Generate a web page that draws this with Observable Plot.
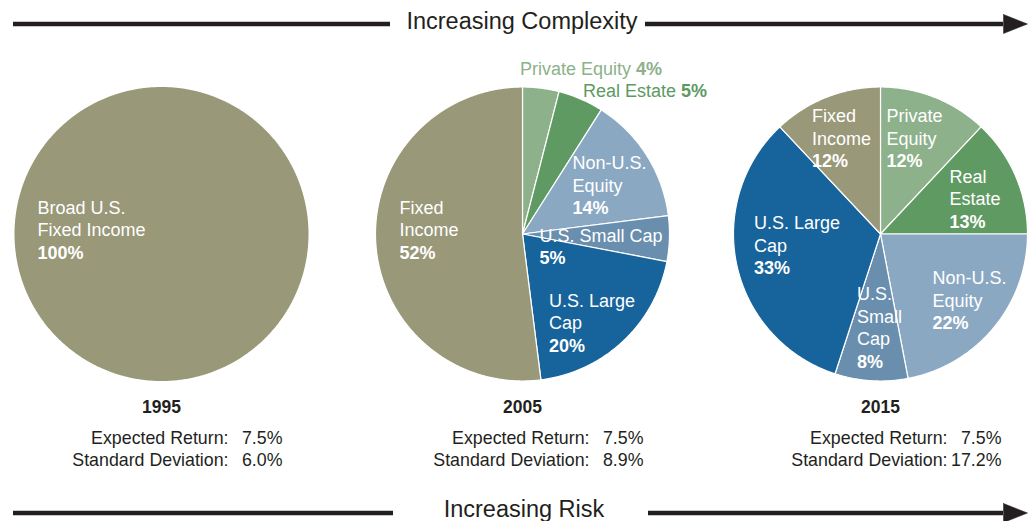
<!DOCTYPE html>
<html>
<head>
<meta charset="utf-8">
<script src="https://cdn.jsdelivr.net/npm/d3@7"></script>
<script src="https://cdn.jsdelivr.net/npm/@observablehq/plot@0.6"></script>
<style>
  html, body { margin: 0; padding: 0; background: #ffffff; }
  #chart svg { display: block; }
</style>
</head>
<body>
<div id="chart"></div>
<script>
// ---------------- DATA ----------------
const categories = ["Private Equity", "Real Estate", "Non-U.S. Equity", "U.S. Small Cap", "U.S. Large Cap", "Fixed Income"];
const years = ["1995", "2005", "2015"];
const values1995 = [0, 0, 0, 0, 0, 100];
const values2005 = [4, 5, 14, 5, 20, 52];
const values2015 = [12, 13, 22, 8, 33, 12];
const labels1995 = ["", "", "", "", "", "Broad U.S.\nFixed Income"];
const labels2005 = ["Private Equity", "Real Estate", "Non-U.S.\nEquity", "U.S. Small Cap", "U.S. Large\nCap", "Fixed\nIncome"];
const labels2015 = ["Private\nEquity", "Real\nEstate", "Non-U.S.\nEquity", "U.S.\nSmall\nCap", "U.S. Large\nCap", "Fixed\nIncome"];
const expectedReturn = ["7.5%", "7.5%", "7.5%"];
const standardDeviation = ["6.0%", "8.9%", "17.2%"];
const expectedLabel = "Expected Return:";
const deviationLabel = "Standard Deviation:";
const topLabel = "Increasing Complexity";
const bottomLabel = "Increasing Risk";

// ---------------- STYLE / LAYOUT ----------------
const colors = ["#8db18a", "#609a63", "#8ba8c3", "#698eae", "#17639b", "#999878"];
const textColors = ["#8db18a", "#5e9962", "#ffffff", "#ffffff", "#ffffff", "#ffffff"];
const W = 1031, H = 521;
const FONT = "'Liberation Sans', Arial, Helvetica, sans-serif";
const ink = "#231f20";
const pieCx = [161, 522, 880], pieCy = 233.5, pieR = 147;
const labelSize = 18, labelLH = 22.5;
const statSize = 17.8;
// first-line baseline positions of slice labels (layout only)
const labelPos = [
  [null, null, null, null, null, [37, 213]],
  [[519.5, 74], [582.5, 96.5], [572, 168.5], [539, 241], [548.5, 306], [399, 213]],
  [[886, 121.5], [949, 182], [932, 283.5], [856.5, 299.5], [753.5, 228.5], [811.5, 121.5]]
];
const outsideLabels = [[], [0, 1], []]; // labels drawn outside the pie on one line
const arrowY = [23.5, 512.5];
const arrowSegs = [[[13, 390], [645, 1003]], [[13, 393], [648, 1003]]];
const arrowTip = 1027, headHalf = 9.5, lineW = 4.5;
const titleY = [28.5, 516], titleX = [521.5, 523.5];

// ---------------- BUILD ----------------
const seriesByYear = [values1995, values2005, values2015];
const labelsByYear = [labels1995, labels2005, labels2015];

const measureCtx = document.createElement("canvas").getContext("2d");
function textWidth(str, size, weight) {
  measureCtx.font = `${weight || "normal"} ${size}px 'Liberation Sans', Arial, sans-serif`;
  return measureCtx.measureText(str).width;
}

const marks = [];

// slices
seriesByYear.forEach((vals, yi) => {
  const cx = pieCx[yi], cy = pieCy, r = pieR;
  const arcs = d3.pie().sort(null).value(d => d)(vals);
  arcs.forEach((a, ci) => {
    if (!(a.value > 0)) return;
    const span = a.endAngle - a.startAngle;
    const full = span >= 2 * Math.PI - 1e-9;
    const n = Math.max(4, Math.ceil(span / (Math.PI / 360)));
    const pts = [];
    if (!full) pts.push({x: cx, y: cy});
    for (let k = 0; k <= n; k++) {
      const t = a.startAngle + span * k / n;
      pts.push({x: cx + r * Math.sin(t), y: cy - r * Math.cos(t)});
    }
    if (!full) pts.push({x: cx, y: cy});
    marks.push(Plot.line(pts, {
      x: "x", y: "y", fill: colors[ci],
      stroke: full ? "none" : "#ffffff", strokeWidth: 1.2, strokeLinejoin: "round"
    }));
  });
});

// slice labels
const normalRows = [], boldRows = [];
seriesByYear.forEach((vals, yi) => {
  vals.forEach((v, ci) => {
    if (!(v > 0)) return;
    const pos = labelPos[yi][ci];
    if (!pos) return;
    const name = labelsByYear[yi][ci];
    const pct = `${v}%`;
    if (outsideLabels[yi].includes(ci)) {
      const lead = name + " ";
      normalRows.push({x: pos[0], y: pos[1], text: lead, fill: textColors[ci]});
      boldRows.push({x: pos[0] + textWidth(lead, labelSize, "normal"), y: pos[1], text: pct, fill: textColors[ci]});
    } else {
      const lines = name.split("\n");
      lines.forEach((ln, li) => normalRows.push({x: pos[0], y: pos[1] + li * labelLH, text: ln, fill: "#ffffff"}));
      boldRows.push({x: pos[0], y: pos[1] + lines.length * labelLH, text: pct, fill: "#ffffff"});
    }
  });
});
marks.push(Plot.text(normalRows, {x: "x", y: "y", text: "text", fill: "fill", textAnchor: "start", lineAnchor: "bottom", fontSize: labelSize, fontFamily: FONT}));
marks.push(Plot.text(boldRows, {x: "x", y: "y", text: "text", fill: "fill", textAnchor: "start", lineAnchor: "bottom", fontSize: labelSize, fontWeight: "bold", fontFamily: FONT}));

// year titles and statistics
const yearRows = years.map((yr, i) => ({x: pieCx[i], y: 412, text: yr}));
const statLabelRows = [], statValueRows = [];
years.forEach((yr, i) => {
  statLabelRows.push({x: pieCx[i] + 67, y: 443, text: expectedLabel});
  statLabelRows.push({x: pieCx[i] + 67, y: 465, text: deviationLabel});
  statValueRows.push({x: pieCx[i] + 121, y: 443, text: expectedReturn[i]});
  statValueRows.push({x: pieCx[i] + 121, y: 465, text: standardDeviation[i]});
});
marks.push(Plot.text(yearRows, {x: "x", y: "y", text: "text", fill: ink, textAnchor: "middle", lineAnchor: "bottom", fontSize: 17.5, fontWeight: "bold", fontFamily: FONT}));
marks.push(Plot.text(statLabelRows, {x: "x", y: "y", text: "text", fill: ink, textAnchor: "end", lineAnchor: "bottom", fontSize: statSize, fontFamily: FONT}));
marks.push(Plot.text(statValueRows, {x: "x", y: "y", text: "text", fill: ink, textAnchor: "end", lineAnchor: "bottom", fontSize: statSize, fontFamily: FONT}));

// arrows
const ruleRows = [];
arrowY.forEach((y, i) => arrowSegs[i].forEach(([x1, x2]) => ruleRows.push({x1, x2, y})));
marks.push(Plot.ruleY(ruleRows, {x1: "x1", x2: "x2", y: "y", stroke: ink, strokeWidth: lineW}));
arrowY.forEach((y, i) => {
  const back = arrowSegs[i][1][1];
  const head = [{x: back, y: y - headHalf}, {x: arrowTip, y: y}, {x: back, y: y + headHalf}, {x: back, y: y - headHalf}];
  marks.push(Plot.line(head, {x: "x", y: "y", fill: ink, stroke: ink, strokeWidth: 0.5}));
});

// titles
const titleRows = [topLabel, bottomLabel].map((t, i) => ({x: titleX[i], y: titleY[i], text: t}));
marks.push(Plot.text(titleRows, {x: "x", y: "y", text: "text", fill: ink, textAnchor: "middle", lineAnchor: "bottom", fontSize: 23.5, fontFamily: FONT}));

const chart = Plot.plot({
  width: W, height: H, margin: 0,
  style: {background: "#ffffff", overflow: "hidden"},
  x: {domain: [0, W], range: [0, W], axis: null},
  y: {domain: [0, H], range: [0, H], axis: null},
  marks
});
document.getElementById("chart").appendChild(chart);
</script>
</body>
</html>
